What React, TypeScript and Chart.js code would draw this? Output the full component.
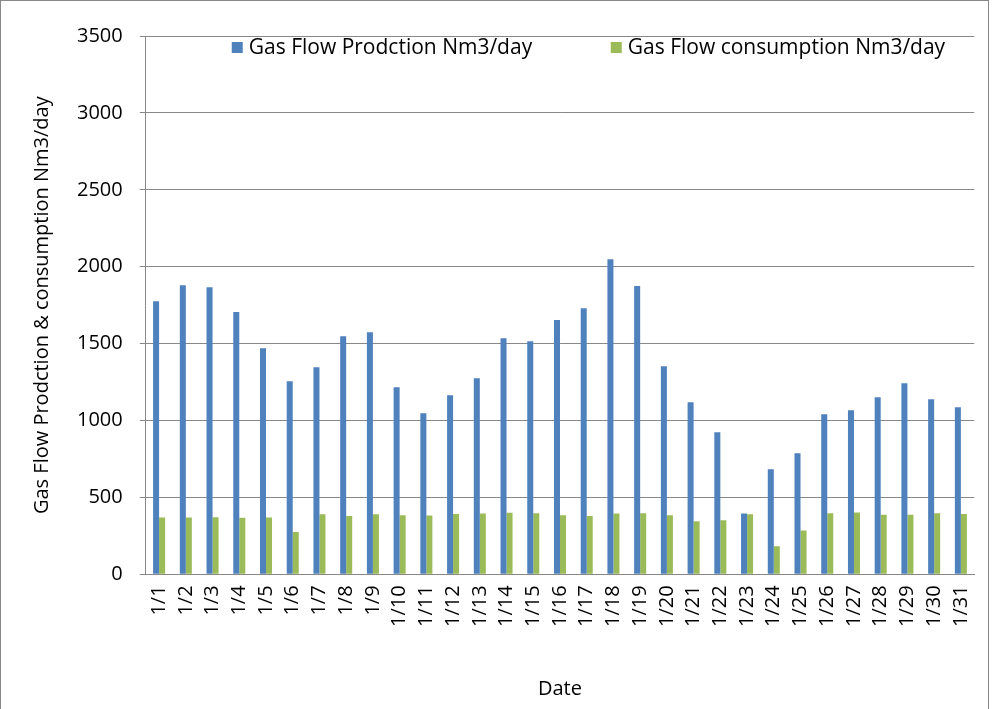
import React, { useEffect, useRef } from "react";
import { Chart, registerables } from "chart.js";
Chart.register(...registerables);

const categories = Array.from({ length: 31 }, (_, i) => `1/${i + 1}`);
const production = [1776, 1880, 1867, 1705, 1470, 1256, 1347, 1548, 1574, 1217, 1047, 1165, 1275, 1535, 1516, 1653, 1730, 2049, 1874, 1353, 1119, 924, 395, 683, 787, 1041, 1067, 1152, 1243, 1139, 1087];
const consumption = [370, 370, 372, 368, 370, 275, 390, 380, 390, 385, 383, 392, 395, 400, 397, 385, 380, 395, 397, 385, 345, 352, 390, 182, 285, 398, 402, 388, 388, 398, 392];
const seriesNames = ["Gas Flow Prodction Nm3/day", "Gas Flow consumption Nm3/day"];
const colors = ["#4F81BD", "#9BBB59"];

const font = "'Open Sans', 'Liberation Sans', Arial, sans-serif";

const legendPlugin = {
  id: "innerLegend",
  afterDatasetsDraw(chart: any) {
    const { ctx, chartArea } = chart;
    ctx.save();
    ctx.font = `21px ${font}`;
    ctx.textBaseline = "middle";
    const y = chartArea.top + 12;
    const xs = [chartArea.left + 86, chartArea.left + 465];
    seriesNames.forEach((n, i) => {
      const x = xs[i];
      ctx.fillStyle = colors[i];
      ctx.fillRect(x, y - 6, 11, 11);
      ctx.fillStyle = "#000";
      ctx.fillText(n, x + 17, y);
    });
    ctx.restore();
  },
};

export default function App() {
  const ref = useRef<HTMLCanvasElement>(null);
  useEffect(() => {
    document.body.style.margin = "0";
    const c = new Chart(ref.current!, {
      type: "bar",
      data: {
        labels: categories,
        datasets: [
          { label: seriesNames[0], data: production, backgroundColor: colors[0], barPercentage: 1, categoryPercentage: 0.45 },
          { label: seriesNames[1], data: consumption, backgroundColor: colors[1], barPercentage: 1, categoryPercentage: 0.45 },
        ],
      },
      options: {
        animation: false,
        responsive: false,
        layout: { padding: { left: 25, right: 8, top: 35, bottom: 14 } },
        plugins: {
          legend: { display: false },
          tooltip: { enabled: false },
        },
        scales: {
          x: {
            grid: { display: false },
            border: { color: "#888" },
            ticks: { font: { family: font, size: 20 }, color: "#000", maxRotation: 90, minRotation: 90, autoSkip: false },
            title: { display: true, text: "Date", font: { family: font, size: 20 }, color: "#000", padding: { top: 47 } },
          },
          y: {
            min: 0,
            max: 3500,
            ticks: { stepSize: 500, font: { family: font, size: 20 }, color: "#000", padding: 17, callback: (v: any) => String(v) },
            grid: { color: "#888", tickLength: 6 },
            border: { color: "#888" },
            title: { display: true, text: "Gas Flow Prodction & consumption Nm3/day", font: { family: font, size: 20 }, color: "#000", padding: { bottom: 6 } },
          },
        },
      },
      plugins: [legendPlugin],
    });
    return () => c.destroy();
  }, []);
  return (
    <div style={{ width: 989, height: 709, border: "1px solid #888", borderBottom: "none", boxSizing: "border-box", position: "relative", overflow: "hidden" }}>
      <canvas ref={ref} width={987} height={718} />
    </div>
  );
}
